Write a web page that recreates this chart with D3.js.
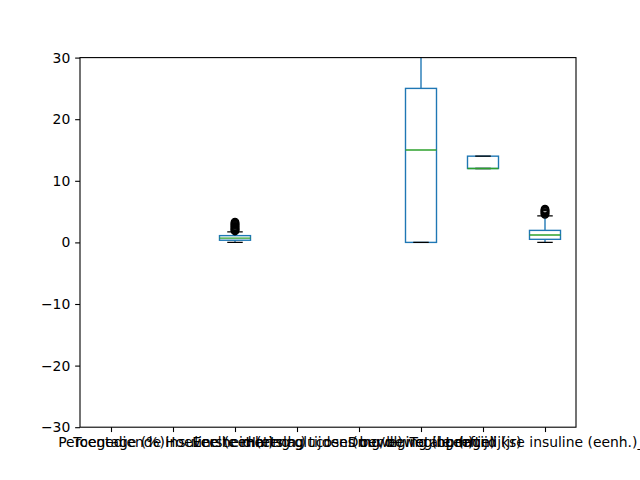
<!DOCTYPE html>
<html><head><meta charset="utf-8">
<script src="https://cdn.jsdelivr.net/npm/d3@7"></script>
<style>body{margin:0;background:#fff}svg{display:block}</style>
</head><body>
<svg id="c" width="640" height="480"></svg>
<script>
// Category labels (overlapping, as in the original)
const categories = [
  "Percentage (%)",
  "Toegediende insuline (eenh.)",
  "Hoeveelheid (eenh.)",
  "Eerste meting glucose (mg/dl)",
  "Hartslag tijdens beweging (bpm)",
  "Duur beweging (min)",
  "Leeftijd (jr)",
  "Totale dagelijkse insuline (eenh.)_bolus"
];
// Box statistics (null = nothing visible in the plotted range)
const whiskerLow  = [null, null, 0.0, null, null, 0,  12, 0.0];
const q1          = [null, null, 0.35, null, null, 0, 12, 0.5];
const median      = [null, null, 0.7, null, null, 15, 12, 1.2];
const q3          = [null, null, 1.1, null, null, 25, 14, 1.95];
const whiskerHigh = [null, null, 1.7, null, null, 45, 14, 4.3];
const fliers = [
  [], [],
  [1.85, 2.0, 2.1, 2.2, 2.35, 2.5, 2.6, 2.75, 2.9, 3.0, 3.15, 3.3],
  [], [], [], [],
  [4.55, 4.7, 4.85, 5.0, 5.1, 5.25, 5.4]
];
const yTicks = [-30, -20, -10, 0, 10, 20, 30];

const svg = d3.select("#c");
const L = 80, R = 576, T = 57.6, B = 427.2;
const font = "DejaVu Sans, sans-serif";

const x = d3.scalePoint().domain(categories).range([L, R]).padding(0.5);
const step = x.step();
const y = d3.scaleLinear().domain([-30, 30]).range([B, T]);

svg.append("defs").append("clipPath").attr("id", "clip")
  .append("rect").attr("x", L).attr("y", T).attr("width", R - L).attr("height", B - T);

const g = svg.append("g").attr("clip-path", "url(#clip)");
const lw = 1.39;
const bw = step * 0.5, cw = step * 0.25;

categories.forEach((c, i) => {
  if (q1[i] === null) return;
  const cx = x(c);
  // whiskers
  g.append("line").attr("x1", cx).attr("x2", cx).attr("y1", y(q1[i])).attr("y2", y(whiskerLow[i]))
    .attr("stroke", "#1f77b4").attr("stroke-width", lw);
  g.append("line").attr("x1", cx).attr("x2", cx).attr("y1", y(q3[i])).attr("y2", y(whiskerHigh[i]))
    .attr("stroke", "#1f77b4").attr("stroke-width", lw);
  // box
  g.append("rect").attr("x", cx - bw / 2).attr("width", bw)
    .attr("y", y(q3[i])).attr("height", Math.max(0, y(q1[i]) - y(q3[i])))
    .attr("fill", "none").attr("stroke", "#1f77b4").attr("stroke-width", lw);
  // caps
  [whiskerLow[i], whiskerHigh[i]].forEach(v => {
    g.append("line").attr("x1", cx - cw / 2).attr("x2", cx + cw / 2).attr("y1", y(v)).attr("y2", y(v))
      .attr("stroke", "#000").attr("stroke-width", lw);
  });
  // median
  g.append("line").attr("x1", cx - bw / 2).attr("x2", cx + bw / 2).attr("y1", y(median[i])).attr("y2", y(median[i]))
    .attr("stroke", "#2ca02c").attr("stroke-width", lw);
  // fliers
  fliers[i].forEach(v => {
    g.append("circle").attr("cx", cx).attr("cy", y(v)).attr("r", 3.7)
      .attr("fill", "none").attr("stroke", "#000").attr("stroke-width", lw);
  });
});

// axes
const yAxis = d3.axisLeft(y).tickValues(yTicks).tickSize(4.86).tickPadding(4.86)
  .tickFormat(d => d < 0 ? "\u2212" + Math.abs(d) : d);
const ya = svg.append("g").attr("transform", `translate(${L},0)`).call(yAxis);
const xAxis = d3.axisBottom(x).tickSize(4.86).tickPadding(4.86);
const xa = svg.append("g").attr("transform", `translate(0,${B})`).call(xAxis);
[ya, xa].forEach(a => {
  a.select(".domain").remove();
  a.selectAll("line").attr("stroke", "#000").attr("stroke-width", 1.1);
  a.selectAll("text").attr("fill", "#000").style("font-family", font).style("font-size", "13.9px");
});
// frame
svg.append("rect").attr("x", L).attr("y", T).attr("width", R - L).attr("height", B - T)
  .attr("fill", "none").attr("stroke", "#000").attr("stroke-width", 1.1);
</script>
</body></html>
